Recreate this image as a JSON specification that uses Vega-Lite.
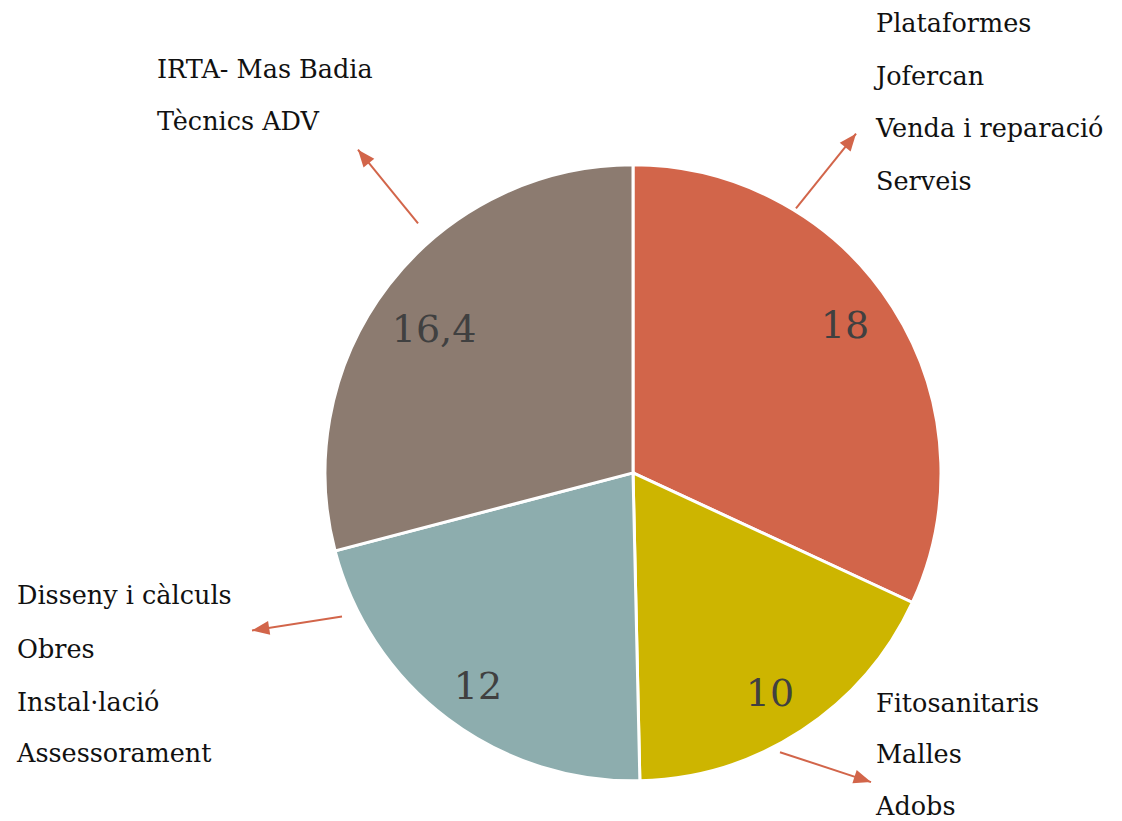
{
  "$schema": "https://vega.github.io/schema/vega-lite/v6.json",
  "width": 1122,
  "height": 821,
  "padding": 0,
  "autosize": {"type": "fit", "contains": "padding"},
  "background": "white",
  "config": {"view": {"stroke": null}},
  "datasets": {
    "pie": [
      {"grup": "A", "valor": 18},
      {"grup": "B", "valor": 10},
      {"grup": "C", "valor": 12},
      {"grup": "D", "valor": 16.4}
    ],
    "valors": [
      {"etiqueta": "18", "x": 0.6906, "y": 0.4756},
      {"etiqueta": "10", "x": 0.4463, "y": -0.7264},
      {"etiqueta": "12", "x": -0.5049, "y": -0.7036},
      {"etiqueta": "16,4", "x": -0.6482, "y": 0.4625}
    ],
    "notes": [
      {"text": "Plataformes", "x": 0.7915, "y": 1.4397},
      {"text": "Jofercan", "x": 0.7915, "y": 1.2671},
      {"text": "Venda i reparació", "x": 0.7915, "y": 1.0961},
      {"text": "Serveis", "x": 0.7915, "y": 0.9235},
      {"text": "IRTA- Mas Badia", "x": -1.5505, "y": 1.2889},
      {"text": "Tècnics ADV", "x": -1.5505, "y": 1.1189},
      {"text": "Disseny i càlculs", "x": -2.0065, "y": -0.429},
      {"text": "Obres", "x": -2.0065, "y": -0.6036},
      {"text": "Instal·lació", "x": -2.0065, "y": -0.7775},
      {"text": "Assessorament", "x": -2.0065, "y": -0.9456},
      {"text": "Fitosanitaris", "x": 0.7915, "y": -0.7795},
      {"text": "Malles", "x": 0.7915, "y": -0.9479},
      {"text": "Adobs", "x": 0.7915, "y": -1.1163}
    ],
    "fletxes": [
      {"id": "A1", "x": 0.5309, "y": 0.8632, "x2": 0.7264, "y2": 1.1075},
      {"id": "A2", "x": -0.7003, "y": 0.8143, "x2": -0.8958, "y2": 1.0554},
      {"id": "A3", "x": -0.9479, "y": -0.4691, "x2": -1.241, "y2": -0.5147},
      {"id": "A4", "x": 0.4788, "y": -0.9121, "x2": 0.7752, "y2": -1.0098}
    ]
  },
  "layer": [
    {
      "data": {"name": "pie"},
      "mark": {"type": "arc", "outerRadius": 308, "stroke": "white", "strokeWidth": 3},
      "encoding": {
        "theta": {"field": "valor", "type": "quantitative", "stack": true},
        "order": {"field": "grup", "sort": "ascending"},
        "color": {
          "field": "grup",
          "type": "nominal",
          "scale": {"domain": ["A", "B", "C", "D"], "range": ["#D2654A", "#CDB500", "#8DADAE", "#8C7B70"]},
          "legend": null
        },
        "x": {"datum": 0, "type": "quantitative", "scale": {"domain": [-2.0619, 1.5928], "nice": false, "zero": false}, "axis": null},
        "y": {"datum": 0, "type": "quantitative", "scale": {"domain": [-1.1303, 1.544], "nice": false, "zero": false}, "axis": null}
      }
    },
    {
      "data": {"name": "valors"},
      "mark": {"type": "text", "font": "DejaVu Serif", "fontSize": 38, "color": "#404040", "align": "center", "baseline": "middle"},
      "encoding": {
        "x": {"field": "x", "type": "quantitative", "axis": null},
        "y": {"field": "y", "type": "quantitative", "axis": null},
        "text": {"field": "etiqueta"}
      }
    },
    {
      "data": {"name": "notes"},
      "mark": {"type": "text", "font": "DejaVu Serif", "fontSize": 25.5, "color": "#111111", "align": "left", "baseline": "alphabetic"},
      "encoding": {
        "x": {"field": "x", "type": "quantitative", "axis": null},
        "y": {"field": "y", "type": "quantitative", "axis": null},
        "text": {"field": "text"}
      }
    },
    {
      "data": {"name": "fletxes"},
      "mark": {"type": "rule", "color": "#D2654A", "strokeWidth": 2},
      "encoding": {
        "x": {"field": "x", "type": "quantitative", "axis": null},
        "y": {"field": "y", "type": "quantitative", "axis": null},
        "x2": {"field": "x2"},
        "y2": {"field": "y2"}
      }
    },
    {
      "data": {"name": "fletxes"},
      "transform": [{"filter": "datum.id === 'A1'"}],
      "mark": {"type": "point", "shape": "M0,0L-0.8,2L0.8,2Z", "size": 300, "filled": true, "color": "#D2654A", "opacity": 1, "angle": 38.7},
      "encoding": {
        "x": {"field": "x2", "type": "quantitative", "axis": null},
        "y": {"field": "y2", "type": "quantitative", "axis": null}
      }
    },
    {
      "data": {"name": "fletxes"},
      "transform": [{"filter": "datum.id === 'A2'"}],
      "mark": {"type": "point", "shape": "M0,0L-0.8,2L0.8,2Z", "size": 300, "filled": true, "color": "#D2654A", "opacity": 1, "angle": 321},
      "encoding": {
        "x": {"field": "x2", "type": "quantitative", "axis": null},
        "y": {"field": "y2", "type": "quantitative", "axis": null}
      }
    },
    {
      "data": {"name": "fletxes"},
      "transform": [{"filter": "datum.id === 'A3'"}],
      "mark": {"type": "point", "shape": "M0,0L-0.8,2L0.8,2Z", "size": 300, "filled": true, "color": "#D2654A", "opacity": 1, "angle": 261.2},
      "encoding": {
        "x": {"field": "x2", "type": "quantitative", "axis": null},
        "y": {"field": "y2", "type": "quantitative", "axis": null}
      }
    },
    {
      "data": {"name": "fletxes"},
      "transform": [{"filter": "datum.id === 'A4'"}],
      "mark": {"type": "point", "shape": "M0,0L-0.8,2L0.8,2Z", "size": 300, "filled": true, "color": "#D2654A", "opacity": 1, "angle": 108.2},
      "encoding": {
        "x": {"field": "x2", "type": "quantitative", "axis": null},
        "y": {"field": "y2", "type": "quantitative", "axis": null}
      }
    }
  ]
}
